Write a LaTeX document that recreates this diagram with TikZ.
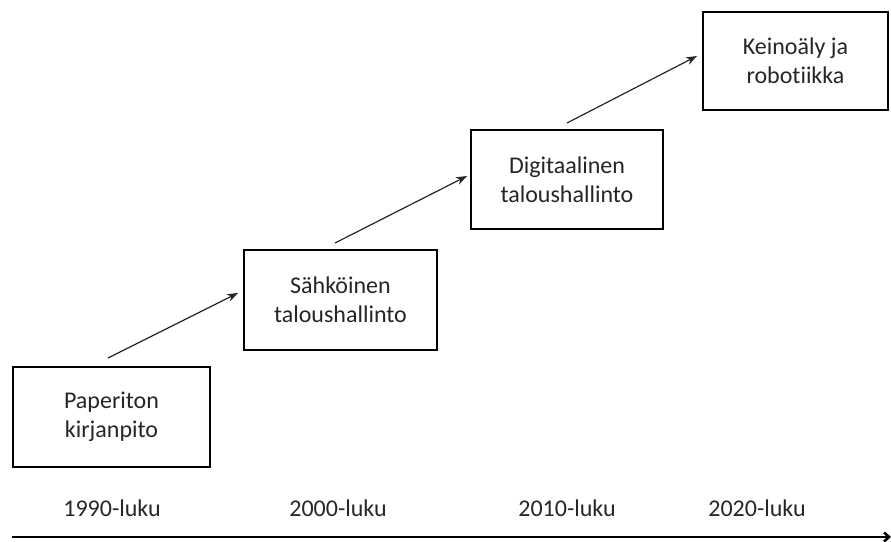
\documentclass[tikz,border=0pt]{standalone}
\usepackage{fontspec}
\setmainfont[Ligatures={NoCommon}]{Carlito}
\usetikzlibrary{arrows.meta}
\begin{document}
\begin{tikzpicture}[x=1pt,y=-1pt,
  stage/.style={draw=black,line width=1.3pt,fill=white,inner sep=0pt,align=center,font=\fontsize{24}{29}\selectfont,text=black!85},
  yearlbl/.style={font=\fontsize{24}{28}\selectfont,text=black!85},
  conn/.style={draw=black!85,line width=1.2pt,-{Stealth[length=11pt,width=8pt]}}]
\useasboundingbox (0,0) rectangle (891,541);
\node[stage,minimum width=197pt,minimum height=100pt] (b1) at (111.5,417) {Paperiton\\kirjanpito};
\node[stage,minimum width=193pt,minimum height=100pt] (b2) at (340.5,300) {Sähköinen\\taloushallinto};
\node[stage,minimum width=192pt,minimum height=99pt] (b3) at (567,179.5) {Digitaalinen\\taloushallinto};
\node[stage,minimum width=185pt,minimum height=98pt] (b4) at (795.5,61) {Keinoäly ja\\robotiikka};
\coordinate (a1s) at (108,358);
\coordinate (a1e) at (238,293);
\coordinate (a2s) at (335,243);
\coordinate (a2e) at (467,176);
\coordinate (a3s) at (567,123);
\coordinate (a3e) at (697,56);
\draw[conn] (a1s) -- (a1e);
\draw[conn] (a2s) -- (a2e);
\draw[conn] (a3s) -- (a3e);
\node[yearlbl] (y1) at (112,508) {1990-luku};
\node[yearlbl] (y2) at (338,508) {2000-luku};
\node[yearlbl] (y3) at (567,508) {2010-luku};
\node[yearlbl] (y4) at (757,508) {2020-luku};
\coordinate (axs) at (12,537);
\coordinate (axe) at (891,537);
\draw[line width=2.6pt,-{Straight Barb[length=5pt,width=9pt]}] (axs) -- (axe);
\end{tikzpicture}
\end{document}
